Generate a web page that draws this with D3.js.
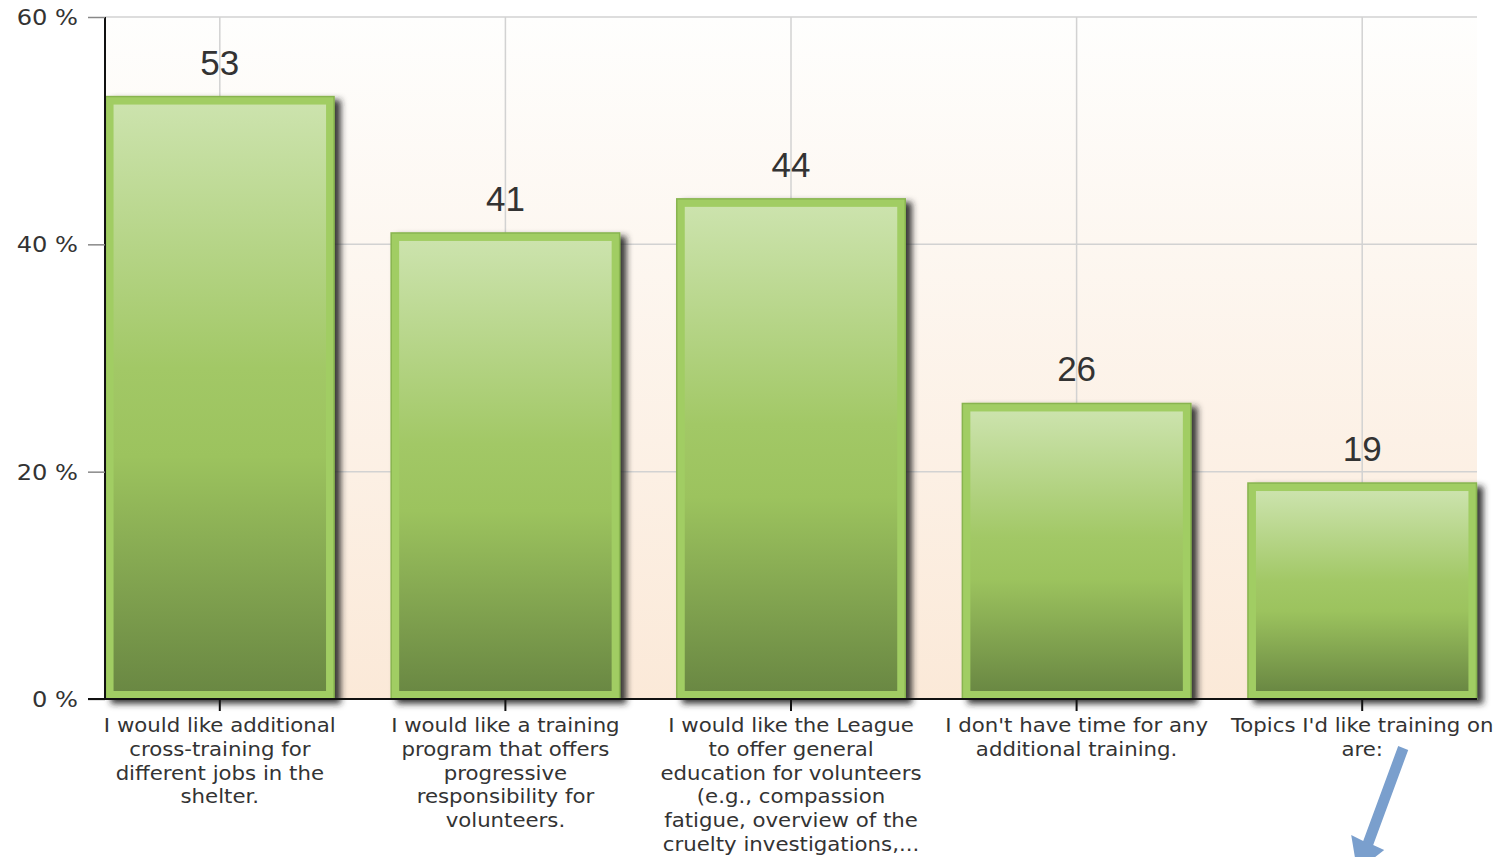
<!DOCTYPE html>
<html>
<head>
<meta charset="utf-8">
<script src="https://cdn.jsdelivr.net/npm/d3@7"></script>
<style>
  body { margin: 0; background: #fff; }
  svg { display: block; }
</style>
</head>
<body>
<div id="chart"></div>
<script>
let w = 1501;
let h = 857;

// data
let categories = ["cross", "program", "league", "notime", "topics"];
let values = [53, 41, 44, 26, 19];
let labelLines = [
  ["I would like additional", "cross-training for", "different jobs in the", "shelter."],
  ["I would like a training", "program that offers", "progressive", "responsibility for", "volunteers."],
  ["I would like the League", "to offer general", "education for volunteers", "(e.g., compassion", "fatigue, overview of the", "cruelty  investigations,..."],
  ["I don't have time for any", "additional training."],
  ["Topics I'd like training on", "are:"]
];
let yTicks = [0, 20, 40, 60];

let plotLeft = 105, plotRight = 1477, plotTop = 17, plotBottom = 699;

let viz = d3.select("#chart")
  .append("svg")
  .attr("width", w)
  .attr("height", h)
  .style("background-color", "white");

let defs = viz.append("defs");

let bg = defs.append("linearGradient").attr("id", "bg")
  .attr("x1", 0).attr("y1", 0).attr("x2", 0).attr("y2", 1);
bg.append("stop").attr("offset", "0%").attr("stop-color", "#fefefd");
bg.append("stop").attr("offset", "100%").attr("stop-color", "#fbe9d8");

let barGrad = defs.append("linearGradient").attr("id", "bargrad")
  .attr("x1", 0).attr("y1", 0).attr("x2", 0).attr("y2", 1);
barGrad.append("stop").attr("offset", "0%").attr("stop-color", "#cce3ad");
barGrad.append("stop").attr("offset", "45%").attr("stop-color", "#a2c866");
barGrad.append("stop").attr("offset", "60%").attr("stop-color", "#9cc35e");
barGrad.append("stop").attr("offset", "100%").attr("stop-color", "#6a8843");

let shadow = defs.append("filter").attr("id", "shadow")
  .attr("x", "-10%").attr("y", "-10%").attr("width", "130%").attr("height", "130%");
shadow.append("feDropShadow")
  .attr("dx", 6).attr("dy", 4)
  .attr("stdDeviation", 3)
  .attr("flood-color", "#222")
  .attr("flood-opacity", 0.9);

// scales
let xScale = d3.scaleBand()
  .domain(categories)
  .range([77, 1505])
  .paddingInner(0.2)
  .paddingOuter(0.1);

let yScale = d3.scaleLinear().domain([0, 60]).range([plotBottom, plotTop]);

// plot background
viz.append("rect")
  .attr("x", plotLeft).attr("y", plotTop)
  .attr("width", plotRight - plotLeft).attr("height", plotBottom - plotTop)
  .attr("fill", "url(#bg)");

// gridlines
viz.append("g").selectAll("line").data(yTicks.filter(d => d > 0)).enter()
  .append("line")
  .attr("x1", plotLeft).attr("x2", plotRight)
  .attr("y1", d => yScale(d)).attr("y2", d => yScale(d))
  .attr("stroke", "#d2d2d2").attr("stroke-width", 1.5);

viz.append("g").selectAll("line").data(categories).enter()
  .append("line")
  .attr("x1", d => xScale(d) + xScale.bandwidth() / 2)
  .attr("x2", d => xScale(d) + xScale.bandwidth() / 2)
  .attr("y1", plotTop).attr("y2", plotBottom)
  .attr("stroke", "#d2d2d2").attr("stroke-width", 1.5);

// bars
let barGroups = viz.selectAll(".bar").data(categories).enter()
  .append("g")
  .attr("class", "bar");

barGroups.append("rect")
  .attr("x", d => xScale(d))
  .attr("y", (d, i) => yScale(values[i]))
  .attr("width", xScale.bandwidth())
  .attr("height", (d, i) => plotBottom - yScale(values[i]))
  .attr("fill", "#a1cd64")
  .attr("stroke", "#88b44f")
  .attr("stroke-width", 1.5)
  .attr("filter", "url(#shadow)");

barGroups.append("rect")
  .attr("x", d => xScale(d) + 8)
  .attr("y", (d, i) => yScale(values[i]) + 8)
  .attr("width", xScale.bandwidth() - 16)
  .attr("height", (d, i) => plotBottom - yScale(values[i]) - 16)
  .attr("fill", "url(#bargrad)");

// value labels
viz.selectAll(".vlabel").data(categories).enter()
  .append("text")
  .attr("class", "vlabel")
  .attr("x", d => xScale(d) + xScale.bandwidth() / 2)
  .attr("y", (d, i) => yScale(values[i]) - 22)
  .attr("text-anchor", "middle")
  .style("font-family", "'Liberation Sans', Arial, sans-serif")
  .style("font-size", "35px")
  .attr("fill", "#333")
  .text((d, i) => values[i]);

// y axis
let yAxisGroup = viz.append("g")
  .attr("transform", "translate(" + plotLeft + ",0)")
  .call(d3.axisLeft(yScale).tickValues(yTicks).tickSize(17).tickFormat(d => d + " %"));
yAxisGroup.select(".domain").attr("stroke", "#111").attr("stroke-width", 2)
  .attr("d", "M0," + plotTop + "V" + plotBottom);
yAxisGroup.selectAll(".tick line").attr("stroke", "#888").attr("stroke-width", 1.5);
yAxisGroup.selectAll(".tick text")
  .attr("x", 0)
  .attr("dy", "0.36em")
  .attr("transform", "translate(-27,0) scale(1.15,1)")
  .style("font-family", "'DejaVu Sans', Verdana, sans-serif")
  .style("font-size", "21px")
  .attr("fill", "#333");

// x axis
let xAxisGroup = viz.append("g")
  .attr("transform", "translate(0," + plotBottom + ")")
  .call(d3.axisBottom(xScale).tickSize(12).tickFormat(""));
xAxisGroup.select(".domain").attr("stroke", "#111").attr("stroke-width", 2)
  .attr("d", "M" + (plotLeft - 17) + ",0H" + plotRight);
xAxisGroup.selectAll(".tick line").attr("stroke", "#111").attr("stroke-width", 2);
xAxisGroup.selectAll(".tick text").remove();

xAxisGroup.selectAll(".tick").each(function (d, i) {
  let t = d3.select(this).append("text")
    .attr("transform", "translate(0,33) scale(1.12,1)")
    .attr("text-anchor", "middle")
    .style("font-family", "'DejaVu Sans', Verdana, sans-serif")
    .style("font-size", "19px")
    .attr("fill", "#333");
  labelLines[i].forEach((line, j) => {
    t.append("tspan")
      .attr("x", 0)
      .attr("y", j * 23.8)
      .text(line);
  });
});

// arrow annotation under the last category
let ax = xScale(categories[4]) + xScale.bandwidth() / 2;
let arrow = d3.path();
arrow.moveTo(ax + 36, 746);
arrow.lineTo(ax + 46, 750);
arrow.lineTo(ax + 11, 845);
arrow.lineTo(ax + 22, 850);
arrow.lineTo(ax - 5, 871);
arrow.lineTo(ax - 11, 835);
arrow.lineTo(ax + 1, 841);
arrow.closePath();
viz.append("path")
  .attr("d", arrow.toString())
  .attr("fill", "#7a9fcd");
</script>
</body>
</html>
